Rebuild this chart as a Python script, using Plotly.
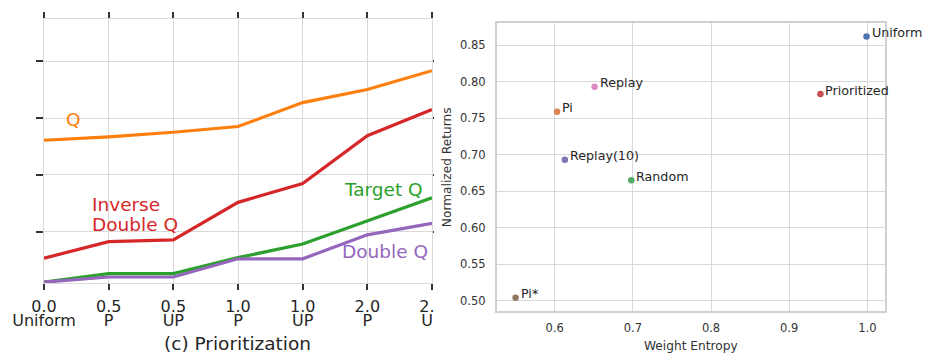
import plotly.graph_objects as go

# ---------------- Left panel data (c) Prioritization ----------------
x_idx = [0, 1, 2, 3, 4, 5, 6]
x_tick_num = ["0.0", "0.5", "0.5", "1.0", "1.0", "2.0", "2.0"]
x_tick_kind = ["Uniform", "P", "UP", "P", "UP", "P", "UP"]
q_vals = [2.61, 2.67, 2.75, 2.85, 3.27, 3.50, 3.83]
inv_double_q_vals = [0.54, 0.83, 0.86, 1.52, 1.85, 2.69, 3.15]
target_q_vals = [0.12, 0.27, 0.27, 0.55, 0.79, 1.19, 1.60]
double_q_vals = [0.12, 0.21, 0.21, 0.53, 0.53, 0.95, 1.15]

# ---------------- Right panel data ----------------
names = ["Uniform", "Prioritized", "Replay", "Pi", "Replay(10)", "Random", "Pi*"]
entropy = [0.999, 0.940, 0.651, 0.603, 0.613, 0.698, 0.550]
returns = [0.862, 0.783, 0.793, 0.759, 0.693, 0.665, 0.504]
point_colors = ["#4c72b0", "#c44e52", "#da8bc3", "#dd8452", "#8172b3", "#55a868", "#937860"]

W, H = 925, 354
FONT = "DejaVu Sans"
TXT = "#262626"
GRID = "#d9d9d9"

fig = go.Figure()

line_specs = [
    (q_vals, "#ff7f0e", "Q"),
    (inv_double_q_vals, "#d62728", "Inverse Double Q"),
    (target_q_vals, "#2ca02c", "Target Q"),
    (double_q_vals, "#9467bd", "Double Q"),
]
for vals, col, nm in line_specs:
    fig.add_trace(go.Scatter(x=x_idx, y=vals, mode="lines", name=nm,
                             line=dict(color=col, width=3.2), xaxis="x", yaxis="y",
                             showlegend=False))

# invisible carrier trace for the second row of x tick labels
fig.add_trace(go.Scatter(x=x_idx, y=q_vals, mode="lines", line=dict(width=0, color="rgba(0,0,0,0)"),
                         hoverinfo="skip", xaxis="x3", yaxis="y", showlegend=False))

fig.add_trace(go.Scatter(x=entropy, y=returns, mode="markers",
                         marker=dict(color=point_colors, size=6.5, line=dict(width=0)),
                         xaxis="x2", yaxis="y2", showlegend=False))

def px_x(p):
    return p / W

def px_y(p):
    return 1 - p / H

ann = []
# Left panel line labels
for txt, xd, yd, col in [
    ("Q", 0.314, 2.965, "#ff7f0e"),
    ("Inverse", 0.711, 1.486, "#d62728"),
    ("Double Q", 0.711, 1.135, "#d62728"),
    ("Target Q", 4.603, 1.737, "#2ca02c"),
    ("Double Q", 4.577, 0.654, "#9467bd"),
]:
    ann.append(dict(x=xd, y=yd, xref="x", yref="y", text=txt, showarrow=False,
                    xanchor="left", yanchor="middle",
                    font=dict(family=FONT, size=18.5, color=col)))

# Left panel title
ann.append(dict(x=px_x(237.5), y=px_y(343), xref="paper", yref="paper",
                text="(c) Prioritization", showarrow=False, xanchor="center", yanchor="middle",
                font=dict(family=FONT, size=18.5, color=TXT)))

# Right panel point labels
for n, xe, yr in zip(names, entropy, returns):
    ann.append(dict(x=xe, y=yr, xref="x2", yref="y2", text=n, showarrow=False,
                    xanchor="left", yanchor="middle", xshift=3, yshift=4,
                    font=dict(family=FONT, size=12.7, color=TXT)))

left_dom = [px_x(44), px_x(432)]

fig.update_layout(
    width=W, height=H,
    margin=dict(l=0, r=0, t=0, b=0, autoexpand=False),
    paper_bgcolor="white", plot_bgcolor="white",
    font=dict(family=FONT, color=TXT),
    annotations=ann,
    xaxis=dict(domain=left_dom, range=[0, 6], tickvals=x_idx, ticktext=x_tick_num,
               ticks="outside", ticklen=6, tickwidth=1.5, tickcolor="#333333", ticklabelstandoff=3,
               mirror="ticks", showline=True, linecolor=GRID, linewidth=1,
               showgrid=True, gridcolor=GRID, gridwidth=1.2, zeroline=False, automargin=False,
               tickfont=dict(family=FONT, size=16, color=TXT), anchor="y"),
    xaxis3=dict(domain=left_dom, range=[0, 6], tickvals=x_idx, ticktext=x_tick_kind,
                overlaying="x", side="bottom", anchor="y",
                ticks="", ticklabelstandoff=26, showline=False, showgrid=False,
                zeroline=False, automargin=False,
                tickfont=dict(family=FONT, size=16, color=TXT)),
    yaxis=dict(domain=[px_y(283), px_y(19)], range=[0.105, 4.737], tickvals=[1, 2, 3, 4],
               showticklabels=False, ticks="outside", ticklen=7, tickwidth=1.5, tickcolor="#333333",
               mirror="ticks", showline=True, linecolor=GRID, linewidth=1, automargin=False,
               showgrid=True, gridcolor=GRID, gridwidth=1.2, zeroline=False, anchor="x"),
    xaxis2=dict(domain=[px_x(496.7), px_x(885)], range=[0.5258, 1.0226],
                tickvals=[0.6, 0.7, 0.8, 0.9, 1.0], ticktext=["0.6", "0.7", "0.8", "0.9", "1.0"],
                ticks="outside", ticklen=5, tickcolor="rgba(0,0,0,0)",
                showline=True, mirror=True, linecolor="#d0d0d0", linewidth=1.5,
                showgrid=True, gridcolor=GRID, gridwidth=1.2, zeroline=False, automargin=False,
                tickfont=dict(family=FONT, size=11.5, color="#333333"),
                title=dict(text="Weight Entropy", font=dict(family=FONT, size=12.2, color="#333333"),
                           standoff=8),
                anchor="y2"),
    yaxis2=dict(domain=[px_y(311.3), px_y(23.3)], range=[0.4855, 0.880],
                tickvals=[0.50, 0.55, 0.60, 0.65, 0.70, 0.75, 0.80, 0.85], tickformat=".2f",
                ticks="outside", ticklen=7, tickcolor="rgba(0,0,0,0)",
                showline=True, mirror=True, linecolor="#d0d0d0", linewidth=1.5,
                showgrid=True, gridcolor=GRID, gridwidth=1.2, zeroline=False, automargin=False,
                tickfont=dict(family=FONT, size=11.5, color="#333333"),
                title=dict(text="Normalized Returns", font=dict(family=FONT, size=12.2, color="#333333"),
                           standoff=6),
                anchor="x2"),
    shapes=[
        dict(type="rect", xref="paper", yref="paper", layer="above",
             x0=px_x(434), x1=px_x(440), y0=0, y1=1,
             fillcolor="white", line=dict(width=0)),
        dict(type="rect", xref="paper", yref="paper", layer="above",
             x0=px_x(434), x1=px_x(447), y0=0, y1=px_y(286),
             fillcolor="white", line=dict(width=0)),
    ],
)

fig.write_html("out.html", config={"displayModeBar": False},
               post_script="document.body.style.margin='0';document.body.style.overflow='hidden';")
